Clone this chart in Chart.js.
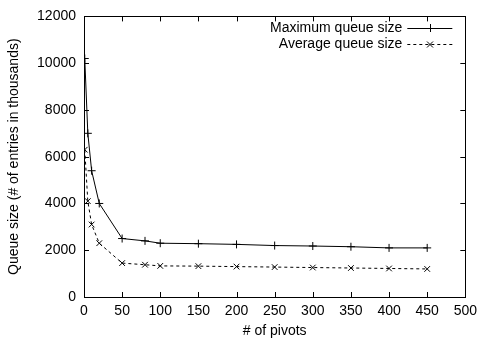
<!DOCTYPE html>
<html>
<head>
<meta charset="utf-8">
<script src="https://cdn.jsdelivr.net/npm/chart.js@4.4.1/dist/chart.umd.min.js"></script>
<style>
  html, body { margin: 0; padding: 0; background: #fff; }
  #wrap { width: 483px; height: 345px; }
</style>
</head>
<body>
<div id="wrap"><canvas id="c" width="483" height="345"></canvas></div>
<script>
const pivots = [1, 5, 10, 20, 50, 80, 100, 150, 200, 250, 300, 350, 400, 450];
const maxQueue = [10200, 7000, 5400, 4000, 2500, 2400, 2300, 2280, 2250, 2200, 2180, 2150, 2100, 2100];
const avgQueue = [6300, 4100, 3100, 2300, 1450, 1380, 1330, 1320, 1300, 1280, 1260, 1240, 1220, 1200];
const seriesNames = ['Maximum queue size', 'Average queue size'];
const xTitle = '# of pivots';
const yTitle = 'Queue size (# of entries in thousands)';

const FONT = 'Liberation Sans, Arial, Helvetica, sans-serif';
const FS = 14;

const toPts = (ys) => pivots.map((x, i) => ({ x: x, y: ys[i] }));

const frame = {
  id: 'frame',
  afterDatasetsDraw(chart) {
    const { ctx, chartArea: a, scales } = chart;
    ctx.save();
    ctx.strokeStyle = '#000';
    ctx.lineWidth = 1;
    ctx.strokeRect(Math.round(a.left) + 0.5, Math.round(a.top) + 0.5,
                   Math.round(a.right - a.left), Math.round(a.bottom - a.top));
    const tl = 5;
    ctx.beginPath();
    scales.x.ticks.forEach(t => {
      const px = Math.round(scales.x.getPixelForValue(t.value)) + 0.5;
      ctx.moveTo(px, a.bottom); ctx.lineTo(px, a.bottom - tl);
      ctx.moveTo(px, a.top); ctx.lineTo(px, a.top + tl);
    });
    scales.y.ticks.forEach(t => {
      const py = Math.round(scales.y.getPixelForValue(t.value)) + 0.5;
      ctx.moveTo(a.left, py); ctx.lineTo(a.left + tl, py);
      ctx.moveTo(a.right, py); ctx.lineTo(a.right - tl, py);
    });
    ctx.stroke();

    // key, gnuplot style: right-aligned text with sample to the right
    ctx.font = FS + 'px ' + FONT;
    ctx.fillStyle = '#000';
    ctx.textAlign = 'right';
    ctx.textBaseline = 'middle';
    const sx0 = a.right - 58, sx1 = a.right - 13;
    chart.data.datasets.forEach((ds, i) => {
      const y = Math.round(a.top + 12 + i * 16);
      ctx.fillText(ds.label, sx0 - 5, y);
      ctx.beginPath();
      ctx.setLineDash(ds.borderDash || []);
      ctx.moveTo(sx0, y + 0.5); ctx.lineTo(sx1, y + 0.5);
      ctx.stroke();
      ctx.setLineDash([]);
      const cx = Math.round((sx0 + sx1) / 2), r = 4;
      ctx.beginPath();
      if (ds.pointStyle === 'cross') {
        ctx.moveTo(cx - r, y + 0.5); ctx.lineTo(cx + r, y + 0.5);
        ctx.moveTo(cx + 0.5, y - r); ctx.lineTo(cx + 0.5, y + r);
      } else {
        const d = r * 0.75;
        ctx.moveTo(cx - d, y + 0.5 - d); ctx.lineTo(cx + d, y + 0.5 + d);
        ctx.moveTo(cx + d, y + 0.5 - d); ctx.lineTo(cx - d, y + 0.5 + d);
      }
      ctx.stroke();
    });
    ctx.restore();
  }
};

new Chart(document.getElementById('c'), {
  type: 'line',
  data: {
    datasets: [
      {
        label: seriesNames[0],
        data: toPts(maxQueue),
        borderColor: '#000',
        backgroundColor: '#000',
        borderWidth: 1,
        pointStyle: 'cross',
        pointRadius: 4,
        pointBorderWidth: 1,
        pointBorderColor: '#000',
        tension: 0,
        fill: false
      },
      {
        label: seriesNames[1],
        data: toPts(avgQueue),
        borderColor: '#000',
        backgroundColor: '#000',
        borderWidth: 1,
        borderDash: [3, 3],
        pointStyle: 'crossRot',
        pointRadius: 4,
        pointBorderWidth: 1,
        pointBorderColor: '#000',
        tension: 0,
        fill: false
      }
    ]
  },
  options: {
    responsive: false,
    animation: false,
    devicePixelRatio: 1,
    layout: { padding: { left: 0, right: 17, top: 12, bottom: 0 } },
    plugins: {
      legend: { display: false },
      tooltip: { enabled: false }
    },
    scales: {
      x: {
        type: 'linear',
        min: 0, max: 500,
        grid: { display: false, drawTicks: false },
        border: { display: false },
        ticks: { stepSize: 50, color: '#000', padding: 6, maxRotation: 0,
                 callback: (v) => String(v),
                 font: { family: FONT, size: FS } },
        title: { display: true, text: xTitle, color: '#000',
                 font: { family: FONT, size: FS }, padding: { top: 0, bottom: 5 } },
        afterFit(s) { s.height = 48; }
      },
      y: {
        min: 0, max: 12000,
        grid: { display: false, drawTicks: false },
        border: { display: false },
        ticks: { stepSize: 2000, color: '#000', padding: 8,
                 callback: (v) => String(v),
                 font: { family: FONT, size: FS } },
        title: { display: true, text: yTitle, color: '#000',
                 font: { family: FONT, size: FS }, padding: { top: 6, bottom: 0 } },
        afterFit(s) { s.width = 84; }
      }
    }
  },
  plugins: [frame]
});
</script>
</body>
</html>
